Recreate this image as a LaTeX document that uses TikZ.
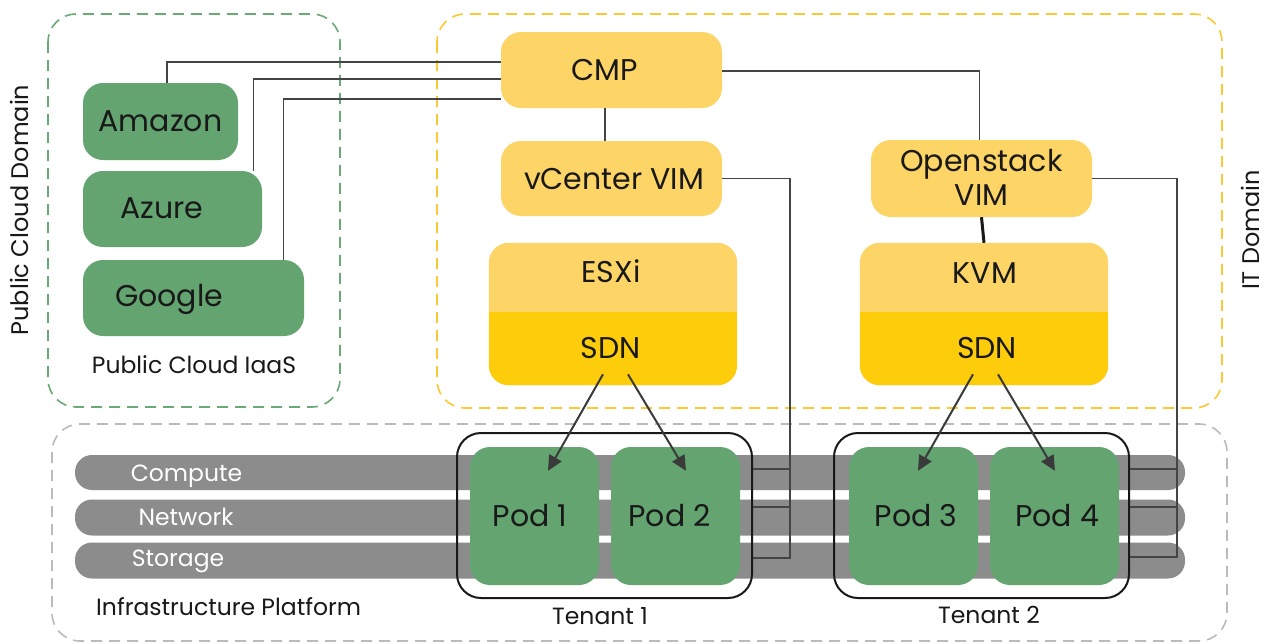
\documentclass[tikz,border=0pt]{standalone}
\usepackage{fontspec}
\setmainfont{Poppins}
\usetikzlibrary{arrows.meta,calc}
\definecolor{gfill}{HTML}{63A470}
\definecolor{ylight}{HTML}{FDD466}
\definecolor{ydark}{HTML}{FDCC0A}
\definecolor{bargray}{HTML}{8C8C8C}
\definecolor{dgreen}{HTML}{6AAA76}
\definecolor{dyellow}{HTML}{FCC934}
\definecolor{dgray}{HTML}{BBBBBB}
\definecolor{conn}{HTML}{444444}
\definecolor{arr}{HTML}{3A3A3A}
\tikzset{
  gbox/.style={fill=gfill, rounded corners=20pt, inner sep=0pt},
  ybox/.style={fill=ylight, rounded corners=20pt, inner sep=0pt},
  big/.style={font=\fontsize{30}{33}\selectfont, inner sep=0pt, anchor=base, text=black!90},
  small/.style={font=\fontsize{23.5}{27}\selectfont, inner sep=0pt, anchor=base, text=black!90},
  bartext/.style={font=\fontsize{23.5}{27}\selectfont, inner sep=0pt, anchor=base, text=white},
  vlabel/.style={font=\fontsize{24}{28}\selectfont, inner sep=0pt, anchor=base, rotate=90, text=black!90},
  domainbox/.style={line width=1.6pt, dash pattern=on 11pt off 7pt, rounded corners=28pt},
  wire/.style={draw=conn, line width=1.2pt},
  podarrow/.style={draw=arr, line width=2pt, -{Triangle[length=15pt,width=14pt]}},
  tenantbox/.style={draw=black!90, line width=2pt, rounded corners=24pt, inner sep=0pt},
  bar/.style={fill=bargray, rounded corners=17pt, inner sep=0pt}
}
\begin{document}
\begin{tikzpicture}[x=1pt,y=-1pt]
\useasboundingbox (0,0) rectangle (1267,643);
\fill[white] (0,0) rectangle (1267,643);

% domains
\draw[domainbox, draw=dgreen] (48,14) rectangle (340,407);
\draw[domainbox, draw=dyellow] (437,14) rectangle (1222,408);
\draw[domainbox, draw=dgray] (52,424) rectangle (1227,641);

\node[vlabel] (pcd) at (28,210) {Public Cloud Domain};
\node[vlabel] (itd) at (1259,230) {IT Domain};

% bars
\node[bar, minimum width=1110, minimum height=35] (barC) at (630,472.5) {};
\node[bar, minimum width=1110, minimum height=36] (barN) at (630,517.5) {};
\node[bar, minimum width=1110, minimum height=36] (barS) at (630,560.5) {};
\node[bartext] (tc) at (186.5,481.5) {Compute};
\node[bartext] (tn) at (186,525) {Network};
\node[bartext] (ts) at (178,566.5) {Storage};

% public cloud boxes
\node[gbox, minimum width=155, minimum height=77] (amazon) at (160.5,121.5) {};
\node[big] (tamazon) at (160.5,131) {Amazon};
\node[gbox, minimum width=179, minimum height=76] (azure) at (172.5,209) {};
\node[big] (tazure) at (162,218) {Azure};
\node[gbox, minimum width=221, minimum height=76] (google) at (193.5,298) {};
\node[big] (tgoogle) at (169,306.5) {Google};
\node[small] (tiaas) at (194,373) {Public Cloud IaaS};

% IT domain
\node[ybox, minimum width=221, minimum height=76] (cmp) at (611.5,70) {};
\node[big] (tcmp) at (605,80) {CMP};
\node[ybox, minimum width=221, minimum height=75] (vcenter) at (611.5,178.5) {};
\node[big] (tvc) at (614,189) {vCenter VIM};
\node[ybox, minimum width=221, minimum height=77] (osvim) at (981.5,178.5) {};
\node[big] (tos1) at (981.5,171.7) {Openstack};
\node[big] (tos2) at (981.5,205) {VIM};

% ESXi / SDN
\node[inner sep=0pt, minimum width=248, minimum height=142] (esxihost) at (613,314) {};
\fill[ylight, rounded corners=20pt] (esxihost.north west) rectangle (esxihost.south east);
\begin{scope}
\clip[rounded corners=20pt] (esxihost.north west) rectangle (esxihost.south east);
\fill[ydark] (489,312) rectangle (737,386);
\end{scope}
\node[big] (esxi) at (611,282.7) {ESXi};
\node[big] (sdn1) at (610.5,358.3) {SDN};

\node[inner sep=0pt, minimum width=248, minimum height=142] (kvmhost) at (984,314) {};
\fill[ylight, rounded corners=20pt] (kvmhost.north west) rectangle (kvmhost.south east);
\begin{scope}
\clip[rounded corners=20pt] (kvmhost.north west) rectangle (kvmhost.south east);
\fill[ydark] (860,312) rectangle (1108,386);
\end{scope}
\node[big] (kvm) at (985,283) {KVM};
\node[big] (sdn2) at (987,358.3) {SDN};

% pods
\node[gbox, minimum width=129, minimum height=138] (pod1) at (534.5,516) {};
\node[gbox, minimum width=129, minimum height=138] (pod2) at (675.5,516) {};
\node[gbox, minimum width=129, minimum height=138] (pod3) at (913.5,516) {};
\node[gbox, minimum width=129, minimum height=138] (pod4) at (1054.5,516) {};
\node[big] (tp1) at (530,526) {Pod 1};
\node[big] (tp2) at (669.5,526) {Pod 2};
\node[big] (tp3) at (916,526) {Pod 3};
\node[big] (tp4) at (1057,526) {Pod 4};

% tenants
\node[tenantbox, minimum width=295, minimum height=165] (tenant1) at (604.5,515.5) {};
\node[tenantbox, minimum width=295, minimum height=165] (tenant2) at (981.5,515.5) {};
\node[small] (tt1) at (600,624) {Tenant 1};
\node[small] (tt2) at (989,623.5) {Tenant 2};
\node[small, anchor=base west] (tinfra) at (96,615) {Infrastructure Platform};

% wires from public cloud to CMP
\draw[wire] ([xshift=6.5pt]amazon.north) |- ([yshift=8pt]cmp.west);
\draw[wire] ([xshift=-9pt]azure.north east) |- ([yshift=-9pt]cmp.west);
\draw[wire] ([xshift=-21pt]google.north east) |- ([yshift=-29pt]cmp.west);

\draw[wire] ([xshift=-6.5pt]cmp.south) -- ([xshift=-6.5pt]vcenter.north);
\draw[wire] ([yshift=-1pt]cmp.east) -| ([xshift=-2pt]osvim.north);
\draw[draw=black!90, line width=3pt] (osvim.south) -- (kvmhost.north);

% vCenter bus
\coordinate (v1) at (790,469);
\coordinate (v2) at (790,507);
\coordinate (v3) at (790,558);
\draw[wire] (vcenter.east) -| (v3) -- (tenant1.east |- v3);
\draw[wire] (tenant1.east |- v1) -- (v1);
\draw[wire] (tenant1.east |- v2) -- (v2);

% Openstack bus
\coordinate (o1) at (1177,469);
\coordinate (o2) at (1177,507);
\coordinate (o3) at (1177,557);
\draw[wire] (osvim.east) -| (o3) -- (tenant2.east |- o3);
\draw[wire] (tenant2.east |- o1) -- (o1);
\draw[wire] (tenant2.east |- o2) -- (o2);

% arrows
\draw[podarrow] ([xshift=-7.5pt,yshift=-16pt]sdn1.base) -- ([xshift=13.5pt,yshift=-24pt]pod1.north);
\draw[podarrow] ([xshift=17.5pt,yshift=-16pt]sdn1.base) -- ([xshift=10.5pt,yshift=-24pt]pod2.north);
\draw[podarrow] ([xshift=-14pt,yshift=-16pt]sdn2.base) -- ([xshift=4.5pt,yshift=-24pt]pod3.north);
\draw[podarrow] ([xshift=11pt,yshift=-16pt]sdn2.base) -- ([xshift=0.5pt,yshift=-24pt]pod4.north);
\end{tikzpicture}
\end{document}
